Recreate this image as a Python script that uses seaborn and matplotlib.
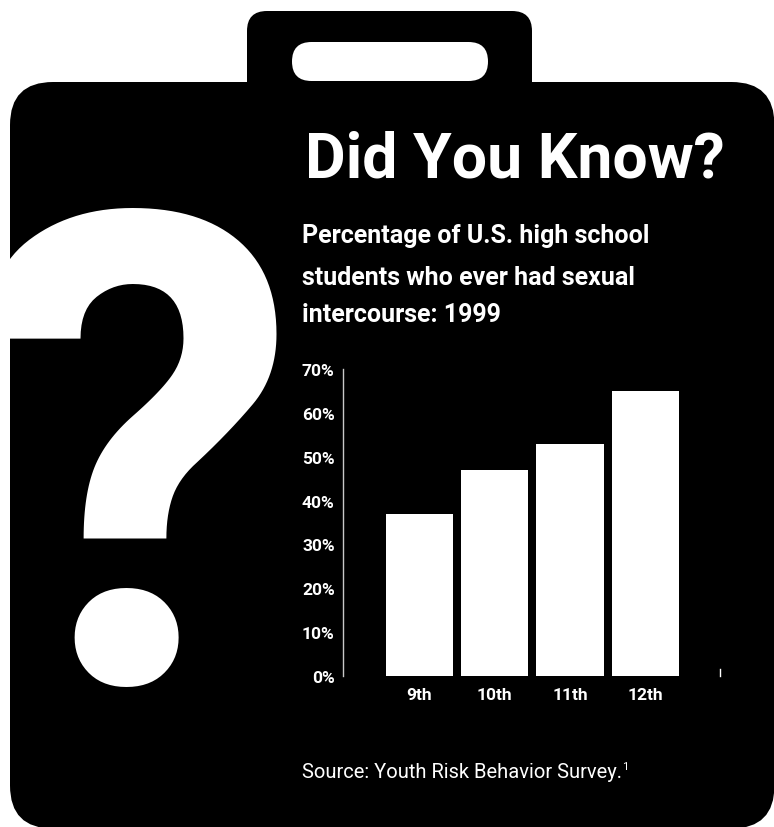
import matplotlib
matplotlib.use("Agg")
import matplotlib.pyplot as plt
import seaborn as sns
import pandas as pd
from matplotlib.patches import FancyBboxPatch
from matplotlib.textpath import TextPath
from matplotlib.font_manager import FontProperties

# ---------------- data ----------------
grades = ["9th", "10th", "11th", "12th"]
percent = [37, 47, 53, 65]
ytick_values = [0, 10, 20, 30, 40, 50, 60, 70]
ytick_labels = ["0%", "10%", "20%", "30%", "40%", "50%", "60%", "70%"]
title = "Did You Know?"
subtitle_lines = ["Percentage of U.S. high school",
                  "students who ever had sexual",
                  "intercourse: 1999"]
source = "Source: Youth Risk Behavior Survey."
footnote = "1"

sns.set_style("white")
plt.rcParams["font.family"] = ["Roboto", "DejaVu Sans"]

W, H = 774, 828
fig = plt.figure(figsize=(W / 100, H / 100), dpi=100, facecolor="white")

# background "suitcase" in pixel coordinates
bg = fig.add_axes([0, 0, 1, 1])
bg.set_xlim(0, W)
bg.set_ylim(H, 0)
bg.axis("off")

handle = FancyBboxPatch((247, 12), 285, 100,
                        boxstyle="round,pad=0,rounding_size=20",
                        fc="black", ec="none")
hole = FancyBboxPatch((292, 43), 196, 39,
                      boxstyle="round,pad=0,rounding_size=19.5",
                      fc="white", ec="none")
body = FancyBboxPatch((10, 83), 764.5, 746.5,
                      boxstyle="round,pad=0,rounding_size=43",
                      fc="black", ec="none")
for p in (handle, hole, body):
    bg.add_patch(p)

# big question mark
fp_q = FontProperties(family="Roboto", weight="bold")
ext = TextPath((0, 0), "?", size=1, prop=fp_q).get_extents()
q_top, q_bottom, q_right = 208, 687, 280
fs_px = (q_bottom - q_top) / (ext.ymax - ext.ymin)
q = bg.text(q_right - ext.xmax * fs_px, q_bottom + ext.ymin * fs_px, "?",
            fontproperties=fp_q, fontsize=fs_px * 72 / 100,
            color="white", ha="left", va="baseline")
q.set_clip_path(body)

# title and subtitle
bg.text(305, 177, title, color="white", fontsize=45, fontweight="bold",
        ha="left", va="baseline")
for yb, line in zip([243, 285, 322], subtitle_lines):
    bg.text(302, yb, line, color="white", fontsize=18, fontweight="bold",
            ha="left", va="baseline")

# source
src = bg.text(302, 778, source, color="white", fontsize=14.5,
              ha="left", va="baseline")

# ---------------- bar chart ----------------
x0, x1, y_base, y_top = 343, 720, 677, 370
ax = fig.add_axes([x0 / W, 1 - y_base / H, (x1 - x0) / W, (y_base - y_top) / H])
ax.patch.set_alpha(0)

df = pd.DataFrame({"grade": grades, "percent": percent})
sns.barplot(data=df, x="grade", y="percent", color="white", width=0.89,
            saturation=1, edgecolor="none", ax=ax)

ax.set_xlim(-1.01, 3.99)
ax.set_ylim(0, 70)
ax.set_xlabel("")
ax.set_ylabel("")
ax.set_yticks(ytick_values)
ax.set_yticklabels(ytick_labels, fontweight="bold", color="white", fontsize=12.5)
ax.set_xticks(range(len(grades)))
ax.set_xticklabels(grades, fontweight="bold", color="white", fontsize=12.5)
ax.tick_params(axis="y", length=3, width=0.8, color="#cccccc", pad=3, direction="out")
ax.tick_params(axis="x", length=0, pad=8)
for s in ("top", "bottom"):
    ax.spines[s].set_visible(False)
ax.spines["left"].set_color("#c8c8c8")
ax.spines["left"].set_linewidth(1)
ax.spines["right"].set_color("white")
ax.spines["right"].set_linewidth(1)
ax.spines["right"].set_bounds(0, 1.6)

# keep the question mark's box clear of the tick labels
fig.canvas.draw()
qb = q.get_window_extent()
if qb.x1 > 300:
    q.set_x(q.get_position()[0] - (qb.x1 - 300))

# superscript footnote next to source
bb = src.get_window_extent()
bg.text(bb.x1 + 0.5, 770, footnote, color="white", fontsize=8,
        ha="left", va="baseline")

fig.savefig("out.png", dpi=100, facecolor="white")
